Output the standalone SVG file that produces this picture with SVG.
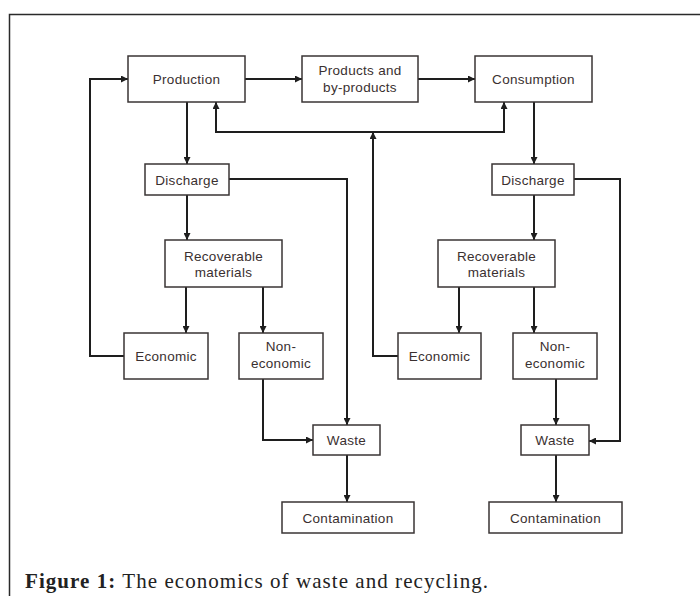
<svg xmlns="http://www.w3.org/2000/svg" width="700" height="596" viewBox="0 0 700 596">
<defs>
<marker id="ah" viewBox="0 0 10 10" refX="10" refY="5" markerWidth="7" markerHeight="7" markerUnits="userSpaceOnUse" orient="auto">
<path d="M0,0 L10,5 L0,10 z" fill="#1e1e1e"/>
</marker>
<style>
.box{fill:#fff;stroke:#3a3535;stroke-width:1.5}
.t{font-family:"Liberation Sans",Arial,sans-serif;font-size:13.5px;fill:#3a3030;text-anchor:middle;letter-spacing:0.3px}
.c{fill:none;stroke:#1e1e1e;stroke-width:2}
.a{marker-end:url(#ah)}
</style>
</defs>
<rect width="700" height="596" fill="#fff"/>
<path d="M9.5,596 V14.5 H700" fill="none" stroke="#2a2a2a" stroke-width="1.5"/>

<g id="connectors">
<path class="c a" d="M245,79 H302"/>
<path class="c a" d="M418,79 H475"/>
<path class="c a" d="M124,356 H90 V79 H128"/>
<path class="c a" d="M187,102 V164"/>
<path class="c a" d="M373,132 H216 V102"/>
<path class="c a" d="M373,132 H504 V102"/>
<path class="c a" d="M398,356 H373 V132"/>
<path class="c a" d="M534,102 V164"/>
<path class="c a" d="M187,195 V240"/>
<path class="c a" d="M229,179 H347 V425"/>
<path class="c a" d="M186,287 V333"/>
<path class="c a" d="M263,287 V333"/>
<path class="c a" d="M263,379 V440 H313"/>
<path class="c a" d="M347,455 V502"/>
<path class="c a" d="M534,195 V240"/>
<path class="c a" d="M574,179 H620 V441 H589"/>
<path class="c a" d="M459,287 V333"/>
<path class="c a" d="M534,287 V333"/>
<path class="c a" d="M556,379 V425"/>
<path class="c a" d="M556,455 V502"/>
</g>

<g id="production"><rect class="box" x="128" y="56" width="117" height="46"/><text class="t" x="186.5" y="84">Production</text></g>
<g id="products"><rect class="box" x="302" y="56" width="116" height="46"/><text class="t" x="360" y="75">Products and</text><text class="t" x="360" y="92">by-products</text></g>
<g id="consumption"><rect class="box" x="475" y="56" width="117" height="46"/><text class="t" x="533.5" y="84">Consumption</text></g>

<g id="discharge-left"><rect class="box" x="145" y="164" width="84" height="31"/><text class="t" x="187" y="184.5">Discharge</text></g>
<g id="recoverable-left"><rect class="box" x="165" y="240" width="117" height="47"/><text class="t" x="223.5" y="260.5">Recoverable</text><text class="t" x="223.5" y="277">materials</text></g>
<g id="economic-left"><rect class="box" x="124" y="333" width="84" height="46"/><text class="t" x="166" y="360.5">Economic</text></g>
<g id="noneconomic-left"><rect class="box" x="239" y="333" width="84" height="46"/><text class="t" x="281" y="351">Non-</text><text class="t" x="281" y="368">economic</text></g>
<g id="waste-left"><rect class="box" x="313" y="425" width="67" height="30"/><text class="t" x="346.5" y="445">Waste</text></g>
<g id="contamination-left"><rect class="box" x="282" y="502" width="132" height="31"/><text class="t" x="348" y="522.5">Contamination</text></g>

<g id="discharge-right"><rect class="box" x="492" y="164" width="82" height="31"/><text class="t" x="533" y="184.5">Discharge</text></g>
<g id="recoverable-right"><rect class="box" x="438" y="240" width="117" height="47"/><text class="t" x="496.5" y="260.5">Recoverable</text><text class="t" x="496.5" y="277">materials</text></g>
<g id="economic-right"><rect class="box" x="398" y="333" width="83" height="46"/><text class="t" x="439.5" y="360.5">Economic</text></g>
<g id="noneconomic-right"><rect class="box" x="513" y="333" width="84" height="46"/><text class="t" x="555" y="351">Non-</text><text class="t" x="555" y="368">economic</text></g>
<g id="waste-right"><rect class="box" x="521" y="425" width="68" height="30"/><text class="t" x="555" y="445">Waste</text></g>
<g id="contamination-right"><rect class="box" x="489" y="502" width="133" height="31"/><text class="t" x="555.5" y="522.5">Contamination</text></g>

<text x="25" y="588" font-family="Liberation Serif,'Times New Roman',serif" font-size="21" fill="#222" textLength="463" lengthAdjust="spacing"><tspan font-weight="bold">Figure 1:</tspan> The economics of waste and recycling.</text>
</svg>
